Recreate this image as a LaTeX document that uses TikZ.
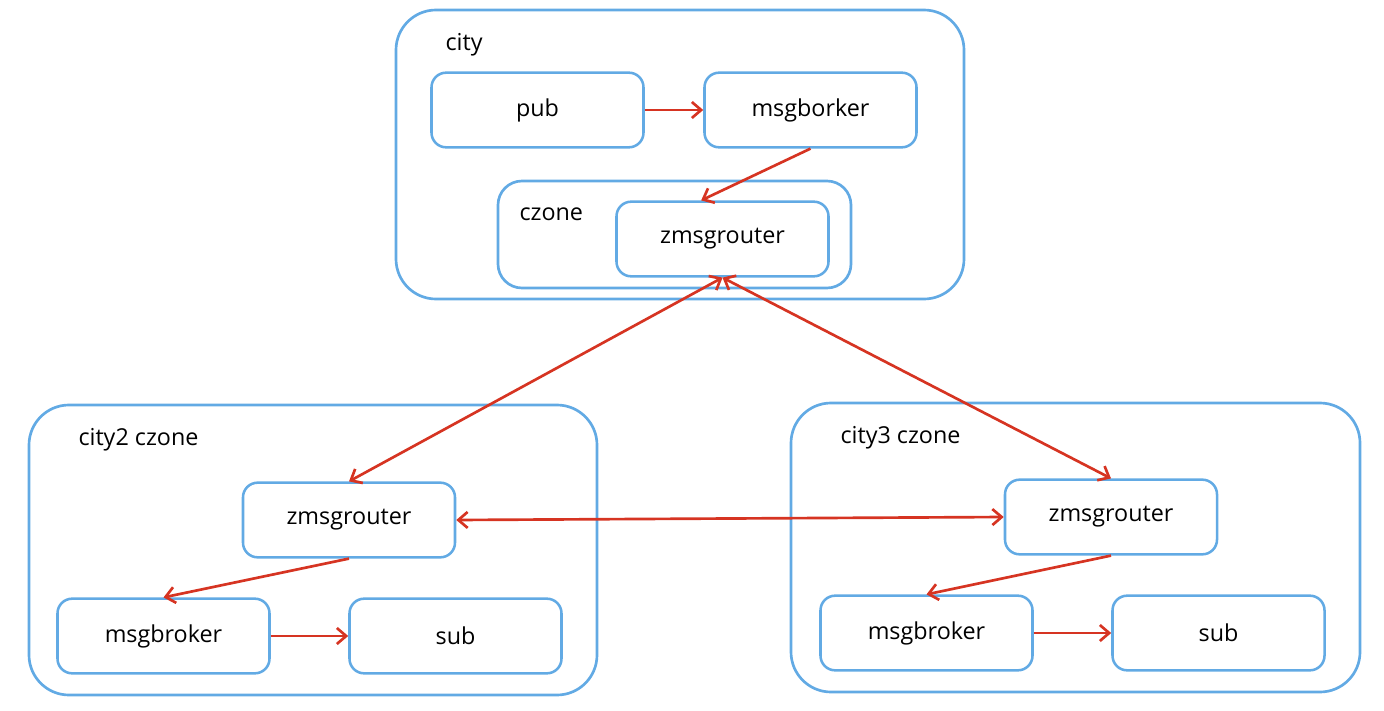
\documentclass[tikz,border=0pt]{standalone}
\usepackage{fontspec}
\setmainfont{Open Sans}
\usetikzlibrary{arrows.meta}

\definecolor{boxblue}{RGB}{98,170,228}
\definecolor{arrred}{RGB}{214,52,34}

\tikzset{every picture/.style={line width=0.75pt}}
\tikzset{
  zone/.style={draw=boxblue, line width=2pt, rounded corners=30pt, inner sep=0pt},
  unit/.style={draw=boxblue, line width=1.9pt, rounded corners=11pt, minimum width=159pt, minimum height=56pt, inner sep=0pt, font=\fontsize{17.5}{20}\selectfont},
  tag/.style={anchor=west, inner sep=0pt, font=\fontsize{17.5}{20}\selectfont},
  flow/.style={draw=arrred, line width=2pt, -{Straight Barb[length=7pt,width=12pt,line width=2pt]}},
  duplex/.style={draw=arrred, line width=2pt, {Straight Barb[length=7pt,width=12pt,line width=2pt]}-{Straight Barb[length=7pt,width=12pt,line width=2pt]}}
}

\begin{document}
\begin{tikzpicture}[x=0.75pt,y=0.75pt,yscale=-1,xscale=1]
\useasboundingbox (0,0) rectangle (1384,710);

%Outer zones
\draw [zone] (396,10) rectangle (964,299);
\draw [zone, rounded corners=18pt] (498,181) rectangle (851,288);
\draw [zone] (29,405) rectangle (597,695);
\draw [zone] (791,403) rectangle (1360,692);

% Zone labels
\node [tag] (lcity) at (445,45) {city};
\node [tag] (lczone) at (519,214) {czone};
\node [tag] (lcity2) at (78,440) {city2 czone};
\node [tag] (lcity3) at (840,438) {city3 czone};

% city
\node [unit] (pub) at (537.5,110) {pub};
\node [unit] (mb1) at (810.5,110) {msgborker};
\node [unit] (zr1) at (722.5,239) {zmsgrouter};

% city2 czone
\node [unit] (zr2) at (349,520) {zmsgrouter};
\node [unit] (mb2) at (163.5,636) {msgbroker};
\node [unit] (sub2) at (455.5,636) {sub};

% city3 czone
\node [unit] (zr3) at (1111,517) {zmsgrouter};
\node [unit] (mb3) at (926.5,633) {msgbroker};
\node [unit] (sub3) at (1218.5,633) {sub};

% Arrows
\draw [flow] (pub) -- (mb1);
\draw [flow] (mb1.south) -- ([xshift=-16pt]zr1.north);
\draw [duplex] (zr1.south) -- (zr2.north);
\draw [duplex] (zr1.south) -- (zr3.north);
\draw [duplex] (zr2.east) -- (zr3.west);
\draw [flow] (zr2.south) -- (mb2.north);
\draw [flow] (mb2) -- (sub2);
\draw [flow] (zr3.south) -- (mb3.north);
\draw [flow] (mb3) -- (sub3);

\end{tikzpicture}
\end{document}
